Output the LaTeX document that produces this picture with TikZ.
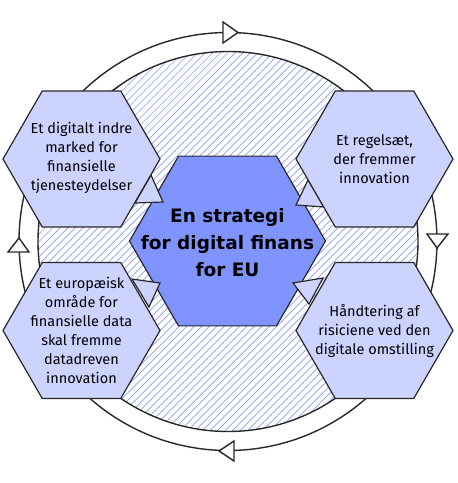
\documentclass[tikz,border=0pt]{standalone}
\usepackage{fontspec}
\setmainfont{Fira Sans}
\newfontfamily\centrefont{DejaVu Sans}
\usetikzlibrary{shapes.geometric}
\definecolor{hexlight}{RGB}{204,211,255}
\definecolor{hexdark}{RGB}{128,148,255}
\definecolor{hatchblue}{RGB}{140,156,242}
\definecolor{edgegray}{RGB}{40,40,40}
\begin{document}
\begin{tikzpicture}[x=1pt,y=-1pt,
  hexo/.style={regular polygon, regular polygon sides=6, draw=edgegray, line width=1.2pt, fill=hexlight, minimum size=157pt, inner sep=0pt},
  hexc/.style={hexo, fill=hexdark, minimum size=196pt},
  txt/.style={align=center, font=\fontsize{14.5}{19}\selectfont, text=black, inner sep=0pt},
  ctxt/.style={align=center, font=\centrefont\fontsize{18.5}{27}\selectfont\bfseries, text=black, inner sep=0pt},
  tail/.style={draw=edgegray, line width=1.2pt, fill=hexlight, line join=miter},
  hatchline/.style={draw=hatchblue, line width=0.7pt},
  ringtip/.style={draw=edgegray, line width=1.4pt, fill=white, line join=miter}]
\useasboundingbox (0,0) rectangle (458,483);
% outer ring
\node[circle, draw=edgegray, line width=1.4pt, minimum size=418pt, inner sep=0pt] (ring) at (228,241.5) {};
% hatched disc
\begin{scope}
  \clip (228,241.5) circle[radius=190pt];
  \foreach \k in {-480,-472.5,...,460} \draw[hatchline] (\k,483) -- ({\k+483},0);
\end{scope}
\node[circle, draw=edgegray, line width=1.4pt, minimum size=380pt, inner sep=0pt] (disc) at (228,241.5) {};
% centre hexagon
\node[hexc] (hc) at (227.5,241) {};
% callout tails
\draw[tail] (151,175) -- (163,202) -- (135,203) -- cycle;
\draw[tail] (308,180) -- (296,205) -- (324,207) -- cycle;
\draw[tail] (132,279) -- (160,283) -- (149,307) -- cycle;
\draw[tail] (293,283) -- (323,278) -- (309,304) -- cycle;
% outer hexagons
\node[hexo] (h1) at (81.5,159) {};
\node[hexo] (h2) at (374.5,159) {};
\node[hexo] (h3) at (81.5,330.5) {};
\node[hexo] (h4) at (374.5,330.5) {};
% texts
\node[ctxt] (tc) at (227.5,243) {En strategi\\for digital finans\\for EU};
\node[txt] (t1) at (81.5,158) {Et digitalt indre\\marked for\\finansielle\\tjenesteydelser};
\node[txt] (t2) at (374.5,159) {Et regelsæt,\\der fremmer\\innovation};
\node[txt] (t3) at (81.5,330) {Et europæisk\\område for\\finansielle data\\skal fremme\\datadreven\\innovation};
\node[txt] (t4) at (374.5,331) {Håndtering af\\risiciene ved den\\digitale omstilling};
% ring arrowheads
\draw[ringtip] (223,22) -- (238,32.5) -- (223,43) -- cycle;
\draw[ringtip] (427,234) -- (437,248) -- (448,234) -- cycle;
\draw[ringtip] (234,441) -- (219,451) -- (234,461) -- cycle;
\draw[ringtip] (8,252) -- (19,238) -- (29,252) -- cycle;
\end{tikzpicture}
\end{document}
